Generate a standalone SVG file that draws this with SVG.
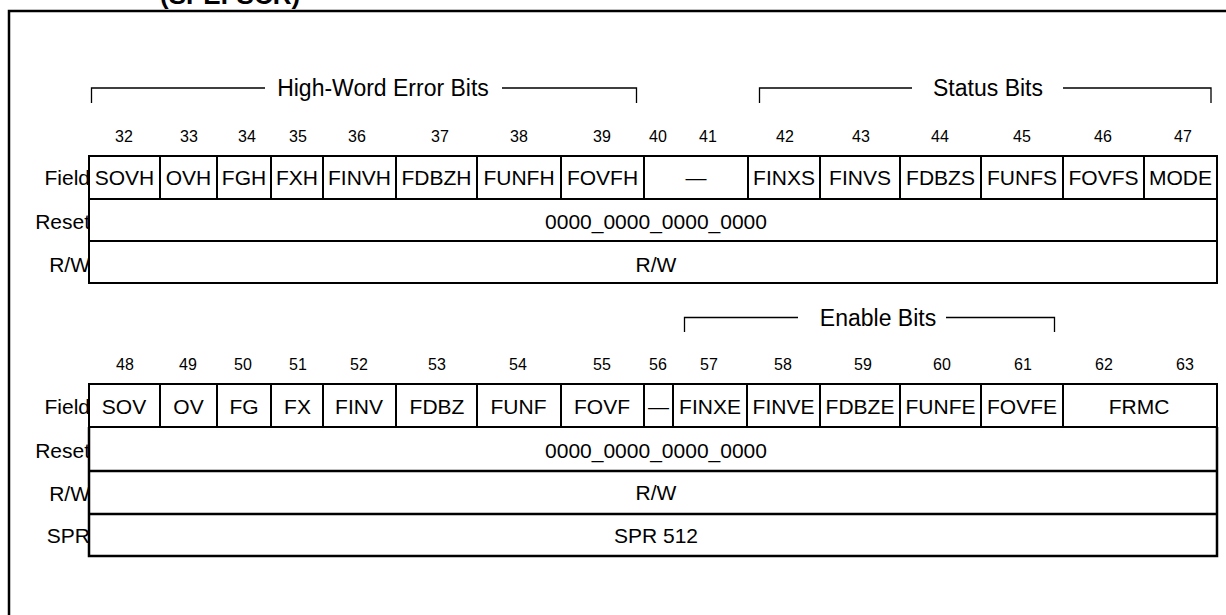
<svg xmlns="http://www.w3.org/2000/svg" width="1226" height="615" viewBox="0 0 1226 615">
<style>
text{font-family:"Liberation Sans",Arial,Helvetica,sans-serif;fill:#000}
.t{font-size:21px;text-anchor:middle}
.lbl{font-size:21px;text-anchor:end}
.n{font-size:16px;text-anchor:middle}
.br{font-size:23px;text-anchor:middle}
.ttl{font-size:26px;font-weight:bold}
.cell{fill:#fff;stroke:#000;stroke-width:2}
.frame{fill:none;stroke:#000;stroke-width:2.5}
.bl{fill:none;stroke:#000;stroke-width:1.3}
.row{fill:none;stroke:#000;stroke-width:2.5}
</style>
<text class="ttl" x="160" y="4">(SPEFSCR)</text>
<path class="frame" d="M9,615 V11 H1226"/>

<g id="brackets">
<path class="bl" d="M91.5,103 V88 H265 M502,88 H636.5 V103"/>
<text class="br" x="383" y="96">High-Word Error Bits</text>
<path class="bl" d="M759.5,103 V88 H912 M1063,88 H1211 V103"/>
<text class="br" x="988" y="96">Status Bits</text>
<path class="bl" d="M684.5,332 V317.5 H798 M946,317.5 H1054.5 V332"/>
<text class="br" x="878" y="325.5">Enable Bits</text>
</g>

<g id="upper-register">
<g id="upper-bitnums">
<text class="n" x="124" y="141.5">32</text>
<text class="n" x="189" y="141.5">33</text>
<text class="n" x="247" y="141.5">34</text>
<text class="n" x="298" y="141.5">35</text>
<text class="n" x="357" y="141.5">36</text>
<text class="n" x="440" y="141.5">37</text>
<text class="n" x="519" y="141.5">38</text>
<text class="n" x="602" y="141.5">39</text>
<text class="n" x="658" y="141.5">40</text>
<text class="n" x="708" y="141.5">41</text>
<text class="n" x="785" y="141.5">42</text>
<text class="n" x="861" y="141.5">43</text>
<text class="n" x="940" y="141.5">44</text>
<text class="n" x="1022" y="141.5">45</text>
<text class="n" x="1103" y="141.5">46</text>
<text class="n" x="1183" y="141.5">47</text>
</g>
<text class="lbl" x="90" y="185">Field</text>
<text class="lbl" x="90" y="229">Reset</text>
<text class="lbl" x="90" y="272">R/W</text>
<g id="f-sovh"><rect class="cell" x="89" y="156" width="71" height="43"/><text class="t" x="124.5" y="185">SOVH</text></g>
<g id="f-ovh"><rect class="cell" x="160" y="156" width="57" height="43"/><text class="t" x="188.5" y="185">OVH</text></g>
<g id="f-fgh"><rect class="cell" x="217" y="156" width="54" height="43"/><text class="t" x="244" y="185">FGH</text></g>
<g id="f-fxh"><rect class="cell" x="271" y="156" width="52" height="43"/><text class="t" x="297" y="185">FXH</text></g>
<g id="f-finvh"><rect class="cell" x="323" y="156" width="73" height="43"/><text class="t" x="359.5" y="185">FINVH</text></g>
<g id="f-fdbzh"><rect class="cell" x="396" y="156" width="81" height="43"/><text class="t" x="436.5" y="185">FDBZH</text></g>
<g id="f-funfh"><rect class="cell" x="477" y="156" width="84" height="43"/><text class="t" x="519" y="185">FUNFH</text></g>
<g id="f-fovfh"><rect class="cell" x="561" y="156" width="83" height="43"/><text class="t" x="602.5" y="185">FOVFH</text></g>
<g id="f-res1"><rect class="cell" x="644" y="156" width="104" height="43"/><text class="t" x="696" y="185">—</text></g>
<g id="f-finxs"><rect class="cell" x="748" y="156" width="72" height="43"/><text class="t" x="784" y="185">FINXS</text></g>
<g id="f-finvs"><rect class="cell" x="820" y="156" width="80" height="43"/><text class="t" x="860" y="185">FINVS</text></g>
<g id="f-fdbzs"><rect class="cell" x="900" y="156" width="81" height="43"/><text class="t" x="940.5" y="185">FDBZS</text></g>
<g id="f-funfs"><rect class="cell" x="981" y="156" width="82" height="43"/><text class="t" x="1022" y="185">FUNFS</text></g>
<g id="f-fovfs"><rect class="cell" x="1063" y="156" width="81" height="43"/><text class="t" x="1103.5" y="185">FOVFS</text></g>
<g id="f-mode"><rect class="cell" x="1144" y="156" width="73" height="43"/><text class="t" x="1180.5" y="185">MODE</text></g>
<g id="upper-reset"><rect class="cell" x="89" y="199" width="1128" height="42"/><text class="t" x="656" y="229">0000_0000_0000_0000</text></g>
<g id="upper-rw"><rect class="cell" x="89" y="241" width="1128" height="42"/><text class="t" x="656" y="272">R/W</text></g>
</g>

<g id="lower-register">
<g id="lower-bitnums">
<text class="n" x="125" y="370">48</text>
<text class="n" x="188" y="370">49</text>
<text class="n" x="243" y="370">50</text>
<text class="n" x="298" y="370">51</text>
<text class="n" x="359" y="370">52</text>
<text class="n" x="437" y="370">53</text>
<text class="n" x="518" y="370">54</text>
<text class="n" x="602" y="370">55</text>
<text class="n" x="658" y="370">56</text>
<text class="n" x="709" y="370">57</text>
<text class="n" x="783" y="370">58</text>
<text class="n" x="863" y="370">59</text>
<text class="n" x="942" y="370">60</text>
<text class="n" x="1023" y="370">61</text>
<text class="n" x="1104" y="370">62</text>
<text class="n" x="1185" y="370">63</text>
</g>
<text class="lbl" x="90" y="414">Field</text>
<text class="lbl" x="90" y="458">Reset</text>
<text class="lbl" x="90" y="501">R/W</text>
<text class="lbl" x="90" y="543">SPR</text>
<g id="f-sov"><rect class="cell" x="89" y="384" width="71" height="43"/><text class="t" x="124" y="414">SOV</text></g>
<g id="f-ov"><rect class="cell" x="160" y="384" width="57" height="43"/><text class="t" x="188.5" y="414">OV</text></g>
<g id="f-fg"><rect class="cell" x="217" y="384" width="54" height="43"/><text class="t" x="244" y="414">FG</text></g>
<g id="f-fx"><rect class="cell" x="271" y="384" width="52" height="43"/><text class="t" x="297.5" y="414">FX</text></g>
<g id="f-finv"><rect class="cell" x="323" y="384" width="73" height="43"/><text class="t" x="359" y="414">FINV</text></g>
<g id="f-fdbz"><rect class="cell" x="396" y="384" width="81" height="43"/><text class="t" x="437" y="414">FDBZ</text></g>
<g id="f-funf"><rect class="cell" x="477" y="384" width="84" height="43"/><text class="t" x="518.5" y="414">FUNF</text></g>
<g id="f-fovf"><rect class="cell" x="561" y="384" width="83" height="43"/><text class="t" x="602" y="414">FOVF</text></g>
<g id="f-res2"><rect class="cell" x="644" y="384" width="29" height="43"/><text class="t" x="658.5" y="414">—</text></g>
<g id="f-finxe"><rect class="cell" x="673" y="384" width="74" height="43"/><text class="t" x="710" y="414">FINXE</text></g>
<g id="f-finve"><rect class="cell" x="747" y="384" width="73" height="43"/><text class="t" x="783.5" y="414">FINVE</text></g>
<g id="f-fdbze"><rect class="cell" x="820" y="384" width="80" height="43"/><text class="t" x="860" y="414">FDBZE</text></g>
<g id="f-funfe"><rect class="cell" x="900" y="384" width="81" height="43"/><text class="t" x="940.5" y="414">FUNFE</text></g>
<g id="f-fovfe"><rect class="cell" x="981" y="384" width="82" height="43"/><text class="t" x="1022" y="414">FOVFE</text></g>
<g id="f-frmc"><rect class="cell" x="1063" y="384" width="154" height="43"/><text class="t" x="1139" y="414">FRMC</text></g>
<g id="lower-reset"><rect class="cell" x="89" y="427" width="1128" height="44"/><text class="t" x="656" y="458">0000_0000_0000_0000</text></g>
<g id="lower-rw"><rect class="cell" x="89" y="471" width="1128" height="43"/><text class="t" x="656" y="500">R/W</text></g>
<g id="lower-spr"><rect class="cell" x="89" y="514" width="1128" height="42"/><text class="t" x="656" y="543">SPR 512</text></g>
<path class="row" d="M89,427 V556 H1217 V427 M89,471 H1217 M89,514 H1217"/>
</g>
</svg>
